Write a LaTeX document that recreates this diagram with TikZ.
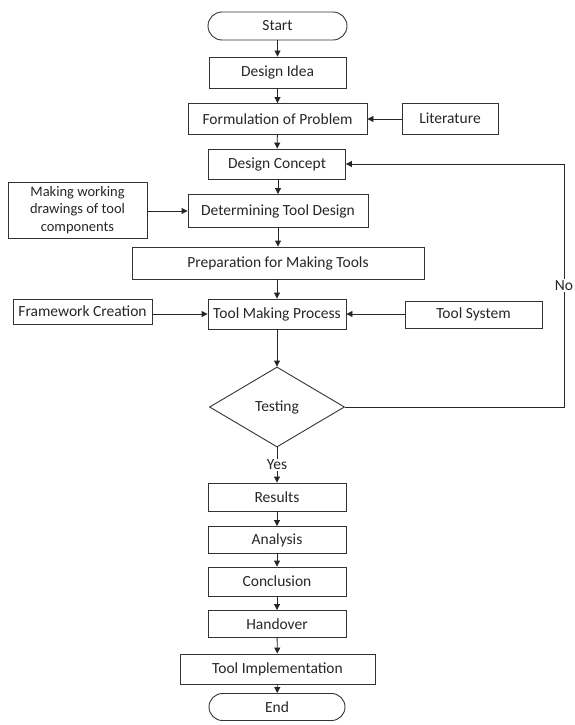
\documentclass[tikz,border=0pt]{standalone}
\usepackage{fontspec}
\setmainfont{Carlito}
\usetikzlibrary{shapes.geometric,arrows.meta}
\begin{document}
\begin{tikzpicture}[x=1pt,y=-1pt,
  every node/.style={font=\fontsize{15.5}{17}\selectfont, text=black!85},
  box/.style={draw=black!80, line width=0.9pt, rectangle, inner sep=1pt, align=center},
  term/.style={draw=black!80, line width=0.9pt, rectangle, rounded corners=14pt, inner sep=1pt},
  dec/.style={draw=black!80, line width=0.9pt, diamond, inner sep=0pt},
  arr/.style={draw=black!85, line width=0.9pt, -{Triangle[length=6pt,width=6pt]}},
  lbl/.style={fill=white, inner sep=1pt}]
\useasboundingbox (0,0) rectangle (574,725);
\node[term, minimum width=139pt, minimum height=28pt] (start) at (277.5,26) {Start};
\node[box, minimum width=137pt, minimum height=31pt] (idea) at (277.5,72.5) {Design Idea};
\node[box, minimum width=179pt, minimum height=31pt] (form) at (277.5,119) {Formulation of Problem};
\node[box, minimum width=96pt, minimum height=31pt] (lit) at (450,118.5) {Literature};
\node[box, minimum width=137pt, minimum height=30pt] (concept) at (277,164) {Design Concept};
\node[box, minimum width=139pt, minimum height=56pt, font=\fontsize{14.5}{17.5}\selectfont] (making) at (77.5,210) {Making working\\drawings of tool\\components};
\node[box, minimum width=180pt, minimum height=33pt] (determ) at (278,211) {Determining Tool Design};
\node[box, minimum width=292pt, minimum height=32pt] (prep) at (278,263) {Preparation for Making Tools};
\node[box, minimum width=139pt, minimum height=25pt] (frame) at (82.5,311.5) {Framework Creation};
\node[box, minimum width=138pt, minimum height=30pt] (toolmk) at (277,314) {Tool Making Process};
\node[box, minimum width=137pt, minimum height=27pt] (toolsys) at (473.5,314.5) {Tool System};
\node[dec, minimum width=135pt, minimum height=80pt] (test) at (277,407) {Testing};
\node[box, minimum width=138pt, minimum height=28pt] (results) at (277,497) {Results};
\node[box, minimum width=138pt, minimum height=27pt] (analysis) at (277,540) {Analysis};
\node[box, minimum width=138pt, minimum height=29pt] (concl) at (277,581.5) {Conclusion};
\node[box, minimum width=138pt, minimum height=27pt] (hand) at (277,624) {Handover};
\node[box, minimum width=195pt, minimum height=30pt] (impl) at (277.5,669) {Tool Implementation};
\node[term, minimum width=136pt, minimum height=27pt, rounded corners=13.5pt] (end) at (277,707) {End};
\coordinate (c1) at (564,407);
\coordinate (c2) at (564,164);
\draw[arr] (start) -- (idea);
\draw[arr] (idea) -- (form);
\draw[arr] (lit.west |- form) -- (form);
\draw[arr] (form) -- (concept);
\draw[arr] (concept.south -| determ) -- (determ);
\draw[arr] (making.east |- determ) -- (determ);
\draw[arr] (determ) -- (prep);
\draw[arr] (prep.south -| toolmk) -- (toolmk);
\draw[arr] (frame.east |- toolmk) -- (toolmk);
\draw[arr] (toolsys.west |- toolmk) -- (toolmk);
\draw[arr] (toolmk) -- (test);
\draw[arr] (test) -- node[lbl, pos=0.5] {Yes} (results);
\draw[arr] (test.east) -- (c1) -- node[lbl, pos=0.5] {No} (c2) -- (concept.east);
\draw[arr] (results) -- (analysis);
\draw[arr] (analysis) -- (concl);
\draw[arr] (concl) -- (hand);
\draw[arr] (hand) -- (impl);
\draw[arr] (impl) -- (end);
\end{tikzpicture}
\end{document}
